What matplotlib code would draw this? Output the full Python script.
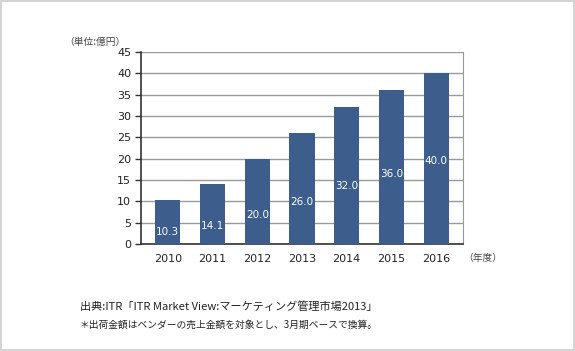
import matplotlib.pyplot as plt
from matplotlib.patches import Rectangle

plt.rcParams['font.family'] = ['Noto Sans CJK JP', 'DejaVu Sans']

# market size in 100 million yen, by fiscal year
years = ["2010", "2011", "2012", "2013", "2014", "2015", "2016"]
values = [10.3, 14.1, 20.0, 26.0, 32.0, 36.0, 40.0]
value_labels = ["10.3", "14.1", "20.0", "26.0", "32.0", "36.0", "40.0"]
yticks = [0, 5, 10, 15, 20, 25, 30, 35, 40, 45]

bar_color = "#3d5d8d"

fig = plt.figure(figsize=(5.75, 3.51), dpi=100)
ax = fig.add_axes([0.2452, 0.3048, 0.56, 0.547])

x = list(range(len(years)))
ax.bar(x, values, width=0.56, color=bar_color, zorder=3)

# value labels sit inside the bars, a bit below the middle
for xi, v, lab in zip(x, values, value_labels):
    ly = 0.00742 * v * v + 0.1896 * v
    ax.text(xi, ly, lab, color="white", ha="center", va="center",
            fontsize=7.5, family="DejaVu Sans", zorder=4)

ax.set_xlim(-0.6, len(years) - 0.4)
ax.set_ylim(0, 45)
ax.set_yticks(yticks)
ax.set_xticks(x)
ax.set_xticklabels(years)
ax.yaxis.grid(True, color="#999999", linewidth=1, zorder=0)
ax.tick_params(axis="x", length=0, pad=7, labelsize=8, labelcolor="#222222")
ax.tick_params(axis="y", length=4, width=1, color="#333333", pad=3,
               labelsize=8, labelcolor="#222222")
for lab in ax.get_xticklabels() + ax.get_yticklabels():
    lab.set_family("DejaVu Sans")

ax.spines["top"].set_visible(False)
ax.spines["right"].set_color("#999999")
ax.spines["left"].set_color("#333333")
ax.spines["bottom"].set_color("#333333")
ax.spines["left"].set_linewidth(1.2)
ax.spines["bottom"].set_linewidth(1.2)

fig.text(0.165, 1 - 42 / 351, "（単位:億円）", fontsize=7, color="#444444",
         ha="center", va="center")
fig.text(0.805, 1 - 258 / 351, "（年度）", fontsize=7, color="#444444",
         ha="left", va="center")
fig.text(80 / 575, 1 - 307 / 351,
         "出典:ITR「ITR Market View:マーケティング管理市場2013」",
         fontsize=8, color="#222222", ha="left", va="center")
fig.text(80 / 575, 1 - 325 / 351,
         "＊出荷金額はベンダーの売上金額を対象とし、3月期ベースで換算。",
         fontsize=7, color="#222222", ha="left", va="center")

fig.patches.append(Rectangle((0.001, 0.002), 0.997, 0.995, transform=fig.transFigure,
                             fill=False, edgecolor="#cccccc", linewidth=1.2))

fig.savefig("out.png", dpi=100)
